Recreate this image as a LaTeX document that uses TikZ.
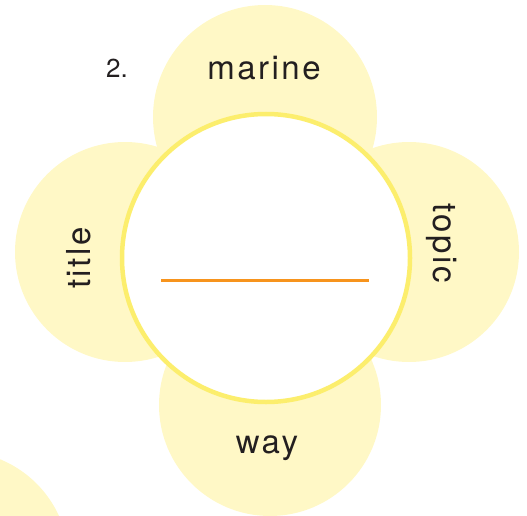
\documentclass[tikz,border=0pt]{standalone}
\usepackage{fontspec}
\newfontfamily\petalfont[LetterSpace=7.5]{TeX Gyre Heros}
\newfontfamily\numfont{TeX Gyre Heros}

\definecolor{petalfill}{HTML}{FFF8C6}
\definecolor{ringline}{HTML}{FCEE6D}
\definecolor{blankline}{HTML}{F7941D}
\definecolor{ink}{HTML}{231F20}

\tikzset{
  petal/.style={fill=petalfill},
  word/.style={text=ink, inner sep=0pt, anchor=base, font=\petalfont\fontsize{33}{40}\selectfont},
}

\begin{document}
\begin{tikzpicture}[x=1pt,y=-1pt]
		\useasboundingbox (0,0) rectangle (527,516);

		% petals
		\fill[petal] (265,117) circle (112);
		\fill[petal] (125,252) circle (110);
		\fill[petal] (409,252) circle (110);
		\fill[petal] (270,405) circle (111);
		\fill[petal] (-42,562) circle (111);

		% centre with answer line
		\filldraw[fill=white,draw=ringline,line width=4.5] (266,258) circle (144);
		\coordinate (blankL) at (161,280.5);
		\coordinate (blankR) at (369,280.5);
		\draw[blankline,line width=2.5] (blankL) -- (blankR);

		\node[text=ink,inner sep=0pt,anchor=base west,font=\numfont\fontsize{26}{30}\selectfont] (num) at (106,78) {2.};

		\node[word] (marine) at (264,80) {marine};
		\node[word] (way) at (267,453) {way};
		\node[word,rotate=90] (title) at (90,258) {title};
		\node[word,rotate=-90] (topic) at (433,243) {topic};
	\end{tikzpicture}
\end{document}
